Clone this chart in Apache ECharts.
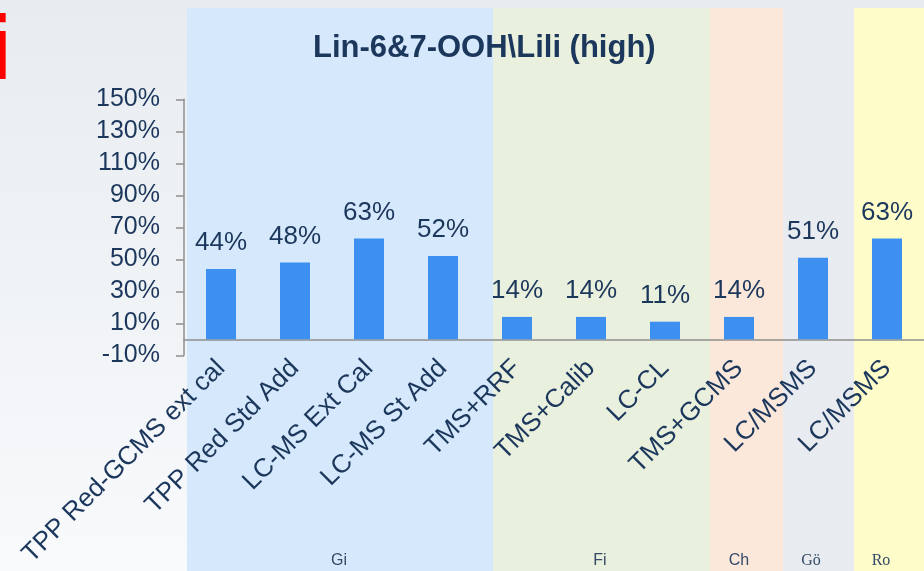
<!DOCTYPE html>
<html><head><meta charset="utf-8">
<script src="https://cdn.jsdelivr.net/npm/echarts@6/dist/echarts.min.js"></script>
<style>html,body{margin:0;padding:0;background:#eff2f5}#c{width:924px;height:571px}</style>
</head><body><div id="c"></div>
<script>
const categories = ['TPP Red-GCMS ext cal','TPP Red Std Add','LC-MS Ext Cal','LC-MS St Add','TMS+RRF','TMS+Calib','LC-CL','TMS+GCMS','LC/MSMS','LC/MSMS'];
const values = [44,48,63,52,14,14,11,14,51,63];
const yTicks = [-10,10,30,50,70,90,110,130,150];
const groupNames = ['Gi','Fi','Ch','Gö','Ro'];
const titleText = 'Lin-6&7-OOH\\Lili (high)';

const bandSpecs = [
  {x0:187,x1:493,color:'#d6e8fb',lx:339,font:'Liberation Sans'},
  {x0:493,x1:710,color:'#e9f0dd',lx:600,font:'Liberation Sans'},
  {x0:710,x1:783,color:'#fce8da',lx:739,font:'Liberation Sans'},
  {x0:783,x1:854,color:'#e8ebef',lx:811,font:'Liberation Serif'},
  {x0:854,x1:924,color:'#fefdca',lx:881,font:'Liberation Serif'}
];
const navy = '#1c375c';
const graphics = [];
bandSpecs.forEach((b,i)=>{
  graphics.push({type:'rect',z:-100,silent:true,shape:{x:b.x0,y:8,width:b.x1-b.x0,height:563},style:{fill:b.color}});
  graphics.push({type:'text',z:-90,silent:true,x:b.lx,y:561,style:{text:groupNames[i],fill:'#344a66',font:'16px "'+b.font+'"',textAlign:'center',textVerticalAlign:'middle'}});
});
graphics.push({type:'text',silent:true,x:12,y:54,style:{text:'i',fill:'#ff0000',font:'bold 90px "Liberation Sans"',textAlign:'right',textVerticalAlign:'middle'}});

const chart = echarts.init(document.getElementById('c'));
chart.setOption({
  backgroundColor:{type:'linear',x:0,y:0,x2:0,y2:1,colorStops:[{offset:0,color:'#e8ecf0'},{offset:1,color:'#f8fafc'}]},
  animation:false,
  textStyle:{fontFamily:'Liberation Sans'},
  graphic:graphics,
  title:{text:titleText,left:308,top:28,textStyle:{fontSize:31,fontWeight:'bold',color:navy,fontFamily:'Liberation Sans'}},
  grid:{left:184,top:99.3,height:256,width:752,containLabel:false},
  xAxis:{type:'category',data:categories,
    axisLine:{lineStyle:{color:'#8f8f8f',width:1.5}},
    axisTick:{length:8,lineStyle:{color:'#8f8f8f',width:1.5}},
    axisLabel:{interval:0,rotate:45,margin:9,fontSize:26,color:navy,fontFamily:'Liberation Sans'}},
  yAxis:{type:'value',min:-10,max:150,
    splitLine:{show:false},
    axisLine:{show:true,lineStyle:{color:'#8f8f8f',width:1.5}},
    axisTick:{show:true,length:8,customValues:yTicks,lineStyle:{color:'#8f8f8f',width:1.5}},
    axisLabel:{customValues:yTicks,margin:24,fontSize:25,color:navy,fontFamily:'Liberation Sans',formatter:v=>v+'%'}},
  series:[{type:'bar',data:values,barWidth:30,itemStyle:{color:'#3d8ff0'},
    label:{show:true,position:'top',distance:13,fontSize:26,color:navy,fontFamily:'Liberation Sans',formatter:p=>p.value+'%'}}]
});
</script></body></html>
